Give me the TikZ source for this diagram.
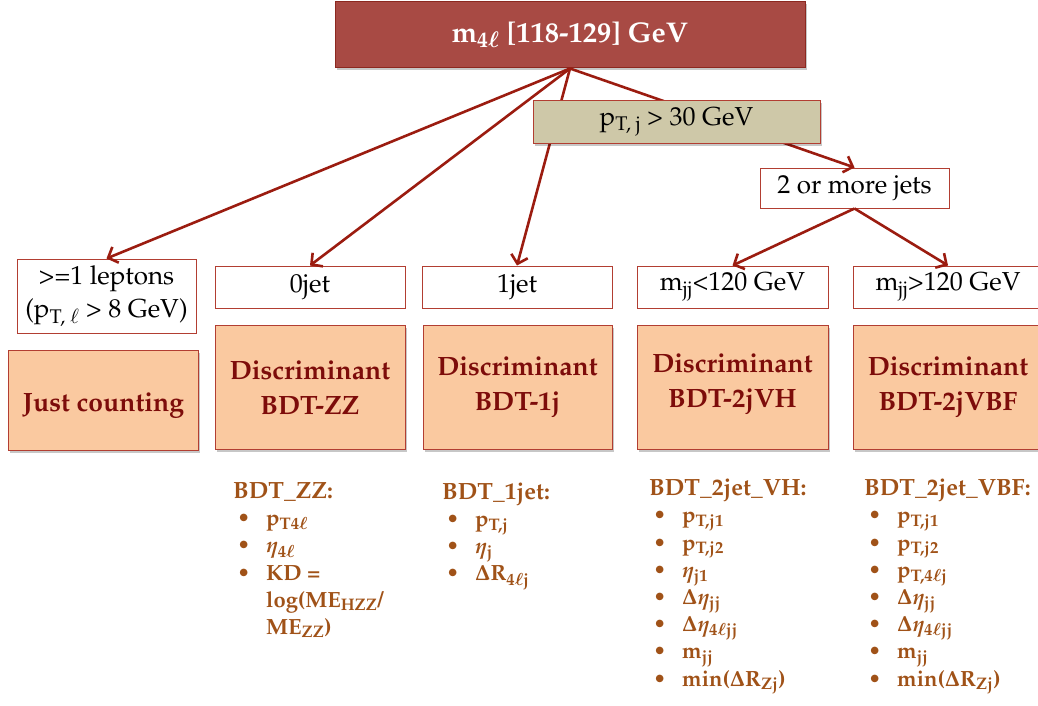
\documentclass[tikz,border=0pt]{standalone}
\usepackage[T1]{fontenc}
\usepackage{mathpazo}
\usetikzlibrary{arrows.meta,shadows}

\definecolor{linkred}{RGB}{155,28,16}
\definecolor{headfill}{RGB}{168,74,68}
\definecolor{headline}{RGB}{140,40,32}
\definecolor{cutfill}{RGB}{206,200,168}
\definecolor{boxline}{RGB}{178,62,50}
\definecolor{peach}{RGB}{250,201,160}
\definecolor{discred}{RGB}{125,12,10}
\definecolor{listbrown}{RGB}{160,82,24}

\tikzset{
  softshadow/.style={drop shadow={shadow xshift=1.5pt, shadow yshift=-2.5pt, fill=black, opacity=0.22}},
  link/.style={draw=linkred, line width=2.6pt, -{Straight Barb[length=8pt,width=17pt]}},
  headbox/.style={draw=headline, line width=1pt, fill=headfill, text=white, inner sep=0pt,
    font=\bfseries\boldmath\fontsize{28.5}{32}\selectfont, softshadow},
  cutbox/.style={draw=boxline, line width=1pt, fill=white, text=black, inner sep=0pt,
    align=center, font=\fontsize{26}{33}\selectfont},
  tanbox/.style={cutbox, fill=cutfill, softshadow},
  discbox/.style={draw=boxline, line width=1pt, fill=peach, text=discred, inner sep=0pt,
    align=center, font=\bfseries\fontsize{26.5}{35}\selectfont, softshadow},
  varlist/.style={anchor=north west, inner sep=0pt, text=listbrown, align=left,
    font=\bfseries\boldmath\fontsize{22}{27.2}\selectfont},
}

% bullet inside a fixed-width indent, and the matching indent for wrapped lines
\newcommand{\blt}{\hbox to 33pt{\kern4pt\textbullet\hfil}}
\newcommand{\wrapind}{\hbox to 33pt{\hfil}}
\newcommand{\listhead}[1]{{\fontsize{23.5}{27.2}\selectfont #1}}

\begin{document}
\begin{tikzpicture}[x=1pt,y=-1pt]
\useasboundingbox (0,0) rectangle (1038,706);

% top selection box
\node[headbox, minimum width=470pt, minimum height=66pt] (head) at (570,35)
  {m\textsubscript{4$\ell$} [118-129] GeV};

% category boxes
\node[cutbox, minimum width=189pt, minimum height=40pt] (two) at (854.5,188) {2 or more jets};
\node[cutbox, minimum width=179pt, minimum height=74pt] (lep) at (106.5,296)
  {>=1 leptons\\(p\textsubscript{T, $\ell$} > 8 GeV)};
\node[cutbox, minimum width=190pt, minimum height=42pt] (j0) at (310,287) {0jet};
\node[cutbox, minimum width=190pt, minimum height=42pt] (j1) at (517,287) {1jet};
\node[cutbox, minimum width=191pt, minimum height=42pt] (mlo) at (732.5,287)
  {m\textsubscript{jj}<120 GeV};
\node[cutbox, minimum width=190pt, minimum height=42pt] (mhi) at (948,287)
  {m\textsubscript{jj}>120 GeV};

% analysis boxes
\node[discbox, minimum width=190pt, minimum height=100pt, text height=28pt, text depth=6pt] (count) at (103.5,400) {Just counting};
\node[discbox, minimum width=190pt, minimum height=124pt] (dzz) at (310,387.5) {Discriminant\\BDT-ZZ};
\node[discbox, minimum width=189pt, minimum height=124pt] (d1j) at (517.5,387.5) {Discriminant\\BDT-1j};
\node[discbox, minimum width=191pt, minimum height=124pt, text depth=14pt] (dvh) at (732.5,387.5) {Discriminant\\BDT-2jVH};
\node[discbox, minimum width=190pt, minimum height=124pt] (dvbf) at (948,387.5) {Discriminant\\BDT-2jVBF};

% connectors
\draw[link] (head.south) -- (lep.north);
\draw[link] (head.south) -- (j0.north);
\draw[link] (head.south) -- (j1.north);
\draw[link] (head.south) -- (two.north);
\draw[link] (two.south) -- (mlo.north);
\draw[link] (two.south) -- (mhi.north);

% jet threshold label lying over the connectors
\node[tanbox, minimum width=287pt, minimum height=42pt] (cut) at (676.5,122) {p\textsubscript{T, j} > 30 GeV};

% input variables of each discriminant
\node[varlist] (vzz) at (233,482.5) {\listhead{BDT\_ZZ:}\\
\blt p\textsubscript{T4$\ell$}\\
\blt $\eta$\textsubscript{4$\ell$}\\
\blt KD =\\
\wrapind log(ME\textsubscript{HZZ}/\\
\wrapind ME\textsubscript{ZZ})};

\node[varlist] (v1j) at (442,482.5) {\listhead{BDT\_1jet:}\\
\blt p\textsubscript{T,j}\\
\blt $\eta$\textsubscript{j}\\
\blt $\Delta$R\textsubscript{4$\ell$j}};

\node[varlist] (vvh) at (649,479) {\listhead{BDT\_2jet\_VH:}\\
\blt p\textsubscript{T,j1}\\
\blt p\textsubscript{T,j2}\\
\blt $\eta$\textsubscript{j1}\\
\blt $\Delta\eta$\textsubscript{jj}\\
\blt $\Delta\eta$\textsubscript{4$\ell$jj}\\
\blt m\textsubscript{jj}\\
\blt min($\Delta$R\textsubscript{Zj})};

\node[varlist] (vvbf) at (864,479) {\listhead{BDT\_2jet\_VBF:}\\
\blt p\textsubscript{T,j1}\\
\blt p\textsubscript{T,j2}\\
\blt p\textsubscript{T,4$\ell$j}\\
\blt $\Delta\eta$\textsubscript{jj}\\
\blt $\Delta\eta$\textsubscript{4$\ell$jj}\\
\blt m\textsubscript{jj}\\
\blt min($\Delta$R\textsubscript{Zj})};
\end{tikzpicture}
\end{document}
